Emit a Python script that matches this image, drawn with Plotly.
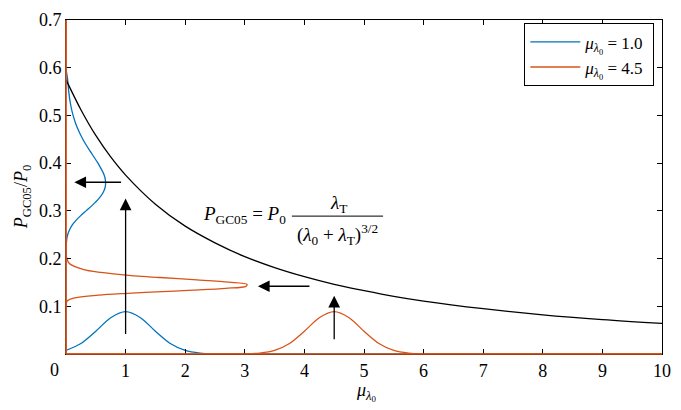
import plotly.graph_objects as go

# ---------------- data ----------------
# black curve  P_GC05 / P0  versus mu_lambda0
x_black = [0, 0.25, 0.5, 0.75, 1, 1.5, 2, 2.5, 3, 3.5, 4, 4.5, 5, 5.5, 6, 7, 8, 9, 10]
y_black = [0.575, 0.512, 0.458, 0.413, 0.375, 0.314, 0.268, 0.233, 0.204, 0.181,
           0.162, 0.146, 0.133, 0.121, 0.111, 0.095, 0.082, 0.072, 0.064]

# input distributions along the x axis
x_blue_in = [0, 0.25, 0.5, 0.75, 1, 1.25, 1.5, 1.75, 2, 2.25, 2.5, 2.75, 3, 10]
y_blue_in = [0.0075, 0.0221, 0.0478, 0.0760, 0.0887, 0.0760, 0.0478, 0.0221,
             0.0075, 0.0019, 0.0003, 0, 0, 0]

x_orange_in = [0, 2.5, 2.75, 3, 3.25, 3.5, 3.75, 4, 4.25, 4.5, 4.75, 5, 5.25,
               5.5, 5.75, 6, 6.25, 10]
y_orange_in = [0, 0, 0, 0.0003, 0.0019, 0.0075, 0.0221, 0.0478, 0.0760, 0.0887,
               0.0760, 0.0478, 0.0221, 0.0075, 0.0019, 0.0003, 0, 0]

# output distributions along the y axis (x = density offset, y = P/P0)
y_blue_out = [0.70, 0.60, 0.577, 0.55, 0.525, 0.50, 0.475, 0.45, 0.425, 0.40, 0.375,
              0.3625, 0.35, 0.3375, 0.325, 0.3125, 0.30, 0.29, 0.28, 0.27, 0.26,
              0.25, 0.24, 0.22, 0.20, 0.0]
x_blue_out = [0.0, 0.0, 0.026, 0.046, 0.074, 0.119, 0.186, 0.282, 0.404, 0.536, 0.640,
              0.663, 0.658, 0.619, 0.547, 0.448, 0.336, 0.247, 0.168, 0.103, 0.058,
              0.028, 0.012, 0.001, 0.0, 0.0]

y_orange_out = [0.70, 0.22, 0.2041, 0.1897, 0.1769, 0.1711, 0.1655, 0.1603, 0.1553,
                0.15055, 0.1461, 0.14178, 0.1377, 0.13383, 0.1301, 0.1266, 0.1232,
                0.1169, 0.1111, 0.1058, 0.0]
x_orange_out = [0.0, 0.0, 0.007, 0.056, 0.298, 0.582, 1.014, 1.577, 2.196,
                2.732, 3.037, 3.019, 2.682, 2.130, 1.514, 0.961, 0.546,
                0.126, 0.019, 0.002, 0.0]

legend_names = ["<i>μ</i><sub><i>λ</i><sub>0</sub></sub> = 1.0\u00a0",
                "<i>μ</i><sub><i>λ</i><sub>0</sub></sub> = 4.5\u00a0"]

x_ticks = [0, 1, 2, 3, 4, 5, 6, 7, 8, 9, 10]
x_ticktext = ["", "1", "2", "3", "4", "5", "6", "7", "8", "9", "10"]
y_ticks = [0.1, 0.2, 0.3, 0.4, 0.5, 0.6, 0.7]
y_ticktext = ["0.1", "0.2", "0.3", "0.4", "0.5", "0.6", "0.7"]

# arrows: (tail x, tail y, head x, head y)
arrows = [
    (0.95, 0.360, 0.14, 0.360),
    (1.0, 0.039, 1.0, 0.326),
    (4.11, 0.142, 3.22, 0.142),
    (4.5, 0.028, 4.5, 0.122),
]

# ---------------- style ----------------
BLUE = "#0072BD"
ORANGE = "#D95319"
FONT = "Times New Roman, Liberation Serif, serif"
FS = 18
LW = 1.3

fig = go.Figure()

fig.add_trace(go.Scatter(x=x_blue_out, y=y_blue_out, mode="lines",
                         line=dict(color=BLUE, width=LW, shape="spline", smoothing=0.8),
                         showlegend=False, hoverinfo="skip"))
fig.add_trace(go.Scatter(x=x_blue_in, y=y_blue_in, mode="lines", name=legend_names[0],
                         line=dict(color=BLUE, width=LW, shape="spline", smoothing=0.8)))
fig.add_trace(go.Scatter(x=x_orange_out, y=y_orange_out, mode="lines",
                         line=dict(color=ORANGE, width=LW, shape="spline", smoothing=0.8),
                         showlegend=False, hoverinfo="skip"))
fig.add_trace(go.Scatter(x=x_orange_in, y=y_orange_in, mode="lines", name=legend_names[1],
                         line=dict(color=ORANGE, width=LW, shape="spline", smoothing=0.8)))
fig.add_trace(go.Scatter(x=x_black, y=y_black, mode="lines",
                         line=dict(color="black", width=LW, shape="spline"),
                         showlegend=False, hoverinfo="skip"))

for (tx, ty, hx, hy) in arrows:
    fig.add_annotation(x=hx, y=hy, ax=tx, ay=ty, xref="x", yref="y",
                       axref="x", ayref="y", text="", showarrow=True,
                       arrowhead=2, arrowsize=1.8, arrowwidth=1.3,
                       arrowcolor="black", standoff=0, startstandoff=0)

# formula
fig.add_annotation(x=3.73, y=0.291, xref="x", yref="y", xanchor="right", yanchor="middle",
                   text="<i>P</i><sub>GC05</sub> = <i>P</i><sub>0</sub>",
                   showarrow=False, font=dict(family=FONT, size=19, color="black"))
fig.add_annotation(x=4.58, y=0.314, xref="x", yref="y", xanchor="center", yanchor="middle",
                   text="<i>λ</i><sub>T</sub>",
                   showarrow=False, font=dict(family=FONT, size=19, color="black"))
fig.add_annotation(x=4.56, y=0.250, xref="x", yref="y", xanchor="center", yanchor="middle",
                   text="(<i>λ</i><sub>0</sub> + <i>λ</i><sub>T</sub>)<sup>3/2</sup>",
                   showarrow=False, font=dict(family=FONT, size=19, color="black"))
fig.add_shape(type="line", x0=3.79, x1=5.32, y0=0.289, y1=0.289, xref="x", yref="y",
              line=dict(color="black", width=1))

# x tick label "0" (offset in the reference)
fig.add_annotation(x=-0.02, y=-0.047, xref="paper", yref="paper", text="0",
                   showarrow=False, xanchor="center", yanchor="middle",
                   font=dict(family=FONT, size=FS, color="black"))

# axis titles
fig.add_annotation(x=0.505, y=-0.113, xref="paper", yref="paper",
                   text="<i>μ</i><sub><i>λ</i><sub>0</sub></sub>",
                   showarrow=False, xanchor="center", yanchor="middle",
                   font=dict(family=FONT, size=FS, color="black"))
fig.add_annotation(x=-0.073, y=0.471, xref="paper", yref="paper", textangle=-90,
                   text="<i>P</i><sub>GC05</sub>/<i>P</i><sub>0</sub>",
                   showarrow=False, xanchor="center", yanchor="middle",
                   font=dict(family=FONT, size=FS, color="black"))

# orange left / bottom frame edges (the orange series lies on them)
fig.add_shape(type="line", xref="paper", yref="paper", x0=0, x1=0, y0=0, y1=1,
              line=dict(color=ORANGE, width=1.6), layer="above")
fig.add_shape(type="line", xref="paper", yref="paper", x0=0, x1=1, y0=0, y1=0,
              line=dict(color=ORANGE, width=1.6), layer="above")

axis_common = dict(ticks="inside", ticklen=5, tickcolor="black", tickwidth=1,
                   showgrid=False, zeroline=False, showline=True,
                   linecolor="black", linewidth=1, mirror="ticks",
                   ticklabeloverflow="allow",
                   tickfont=dict(family=FONT, size=FS, color="black"))

fig.update_layout(
    width=681, height=410,
    margin=dict(l=66, r=10, t=10, b=56),
    paper_bgcolor="white", plot_bgcolor="white",
    font=dict(family=FONT, size=FS, color="black"),
    xaxis=dict(range=[0, 10], tickvals=x_ticks, ticktext=x_ticktext,
               **axis_common),
    yaxis=dict(range=[0, 0.7], tickvals=y_ticks, ticktext=y_ticktext,
               **axis_common),
    legend=dict(x=0.769, y=0.99, xanchor="left", yanchor="top",
                bgcolor="white", bordercolor="black", borderwidth=1,
                font=dict(family=FONT, size=17), tracegroupgap=0,
                itemwidth=50),
    showlegend=True,
)

fig.write_html("out.html",
               config={"displayModeBar": False},
               post_script="document.body.style.margin='0';"
                           "document.documentElement.style.overflow='hidden';")
